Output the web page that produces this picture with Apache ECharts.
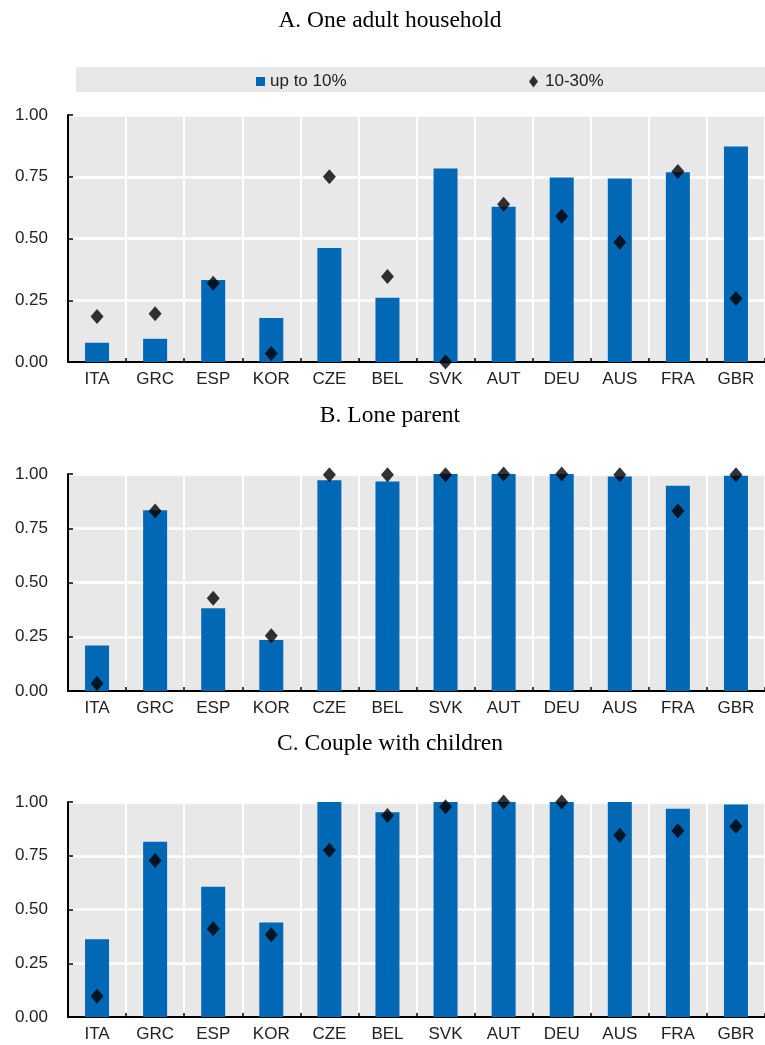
<!DOCTYPE html>
<html>
<head>
<meta charset="utf-8">
<script src="https://cdn.jsdelivr.net/npm/echarts@6/dist/echarts.min.js"></script>
<style>
html,body{margin:0;padding:0;background:#fff;}
#chart{width:765px;height:1045px;}
</style>
</head>
<body>
<div id="chart"></div>
<script>
const categories = ['ITA','GRC','ESP','KOR','CZE','BEL','SVK','AUT','DEU','AUS','FRA','GBR'];
const panelTitles = ['A. One adult household','B. Lone parent','C. Couple with children'];
const seriesNames = ['up to 10%','10-30%'];

const oneAdultUpTo10 = [0.078,0.094,0.332,0.178,0.462,0.260,0.783,0.629,0.747,0.743,0.768,0.872];
const oneAdult10to30 = [0.184,0.195,0.319,0.034,0.750,0.346,0.0,0.639,0.590,0.485,0.771,0.257];
const loneParentUpTo10 = [0.210,0.833,0.381,0.235,0.971,0.965,1.0,1.0,1.0,0.988,0.946,0.992];
const loneParent10to30 = [0.035,0.829,0.427,0.255,0.997,0.997,0.997,1.0,1.0,0.997,0.829,0.997];
const coupleUpTo10 = [0.362,0.815,0.606,0.439,1.0,0.952,1.0,1.0,1.0,1.0,0.969,0.988];
const couple10to30 = [0.096,0.728,0.410,0.382,0.776,0.937,0.978,1.0,1.0,0.845,0.866,0.887];

const barData = [oneAdultUpTo10, loneParentUpTo10, coupleUpTo10];
const dotData = [oneAdult10to30, loneParent10to30, couple10to30];

const BLUE = '#0068b4';
const BG = '#e8e8e8';
const SANS = '"Liberation Sans",Arial,sans-serif';
const SERIF = '"Liberation Serif","Times New Roman",serif';

const grids = [
  {left:68, width:703, top:115, height:247},
  {left:68, width:703, top:474, height:217},
  {left:68, width:703, top:802, height:215}
];
const titleY = [20.5, 416, 744];

const chart = echarts.init(document.getElementById('chart'), null, {renderer:'canvas'});

const xAxes = grids.map((g,i)=>({
  type:'category', gridIndex:i, data:categories, boundaryGap:true,
  axisLine:{show:true, lineStyle:{color:'#000', width:2}},
  axisTick:{show:true, inside:true, length:4, lineStyle:{color:'#000', width:1.5}},
  axisLabel:{color:'#222', fontFamily:SANS, fontSize:17, margin:9},
  splitLine:{show:true, lineStyle:{color:'#fff', width:2}}
}));
const yAxes = grids.map((g,i)=>({
  type:'value', gridIndex:i, min:0, max:1, interval:0.25,
  axisLine:{show:true, lineStyle:{color:'#000', width:2}},
  axisTick:{show:true, inside:true, length:5, lineStyle:{color:'#000', width:1.5}},
  axisLabel:{color:'#222', fontFamily:SANS, fontSize:17, margin:20,
    formatter:v=>v.toFixed(2)},
  splitLine:{show:true, lineStyle:{color:'#fff', width:2.5}}
}));

const series = [];
for (let i=0;i<3;i++){
  series.push({
    name:seriesNames[0], type:'bar', xAxisIndex:i, yAxisIndex:i,
    data:barData[i], barWidth:24, itemStyle:{color:BLUE}, z:2
  });
  series.push({
    name:seriesNames[1], type:'scatter', xAxisIndex:i, yAxisIndex:i,
    data:dotData[i], symbol:'diamond', symbolSize:[13,15],
    itemStyle:{color:'#000'}, z:5
  });
}

const graphics = [
  {type:'rect', shape:{x:76, y:67, width:689, height:25}, style:{fill:BG}, z:-1}
];
panelTitles.forEach((t,i)=>{
  graphics.push({type:'text', x:390, y:titleY[i], style:{text:t, fill:'#000',
    font:'23.5px ' + SERIF, textAlign:'center', textVerticalAlign:'middle'}});
});

chart.setOption({
  animation:false,
  backgroundColor:'#fff',
  grid: grids.map(g=>Object.assign({show:true, backgroundColor:BG, borderWidth:0}, g)),
  xAxis: xAxes,
  yAxis: yAxes,
  legend:[
    {
      data:[{name:seriesNames[0], icon:'rect'}],
      left:256, top:73, padding:0, itemWidth:9, itemHeight:9,
      textStyle:{fontFamily:SANS, fontSize:17, color:'#222'},
      selectedMode:false
    },
    {
      data:[{name:seriesNames[1], icon:'diamond'}],
      left:529, top:73, padding:0, itemWidth:9, itemHeight:12,
      textStyle:{fontFamily:SANS, fontSize:17, color:'#222', padding:[0,0,0,2]},
      selectedMode:false
    }
  ],
  graphic: graphics,
  series: series
});
</script>
</body>
</html>
